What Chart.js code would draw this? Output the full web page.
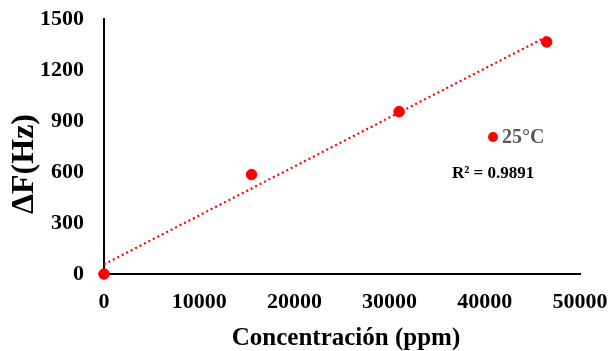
<!DOCTYPE html>
<html>
<head>
<meta charset="utf-8">
<script src="https://cdn.jsdelivr.net/npm/chart.js@4/dist/chart.umd.min.js"></script>
<style>
html,body{margin:0;padding:0;background:#fff;}
#wrap{width:612px;height:351px;position:relative;}
</style>
</head>
<body>
<div id="wrap"><canvas id="c" width="612" height="351"></canvas></div>
<script>
// Data
const concentrations = [0, 15500, 31000, 46500];       // ppm
const deltaF = [0, 585, 955, 1365];                   // Hz
const seriesLabel = '25°C';
const r2Label = 'R² = 0.9891';
const xTitle = 'Concentración (ppm)';
const yTitle = 'ΔF(Hz)';
const xTicks = [0, 10000, 20000, 30000, 40000, 50000];
const yTicks = [0, 300, 600, 900, 1200, 1500];

// Least-squares linear trendline from the points
const n = concentrations.length;
const mx = concentrations.reduce((a, b) => a + b, 0) / n;
const my = deltaF.reduce((a, b) => a + b, 0) / n;
let sxy = 0, sxx = 0;
for (let i = 0; i < n; i++) {
  sxy += (concentrations[i] - mx) * (deltaF[i] - my);
  sxx += (concentrations[i] - mx) ** 2;
}
const slope = sxy / sxx;
const intercept = my - slope * mx;
const xMinData = Math.min(...concentrations), xMaxData = Math.max(...concentrations);
const trend = [
  {x: xMinData, y: intercept + slope * xMinData},
  {x: xMaxData, y: intercept + slope * xMaxData}
];

const FONT = '"Liberation Serif", "Times New Roman", serif';

const overlay = {
  id: 'overlay',
  afterDraw(chart) {
    const ctx = chart.ctx;
    ctx.save();
    ctx.fillStyle = '#000';
    ctx.font = 'bold 32px ' + FONT;
    ctx.textAlign = 'center';
    ctx.textBaseline = 'middle';
    ctx.translate(25, 164);
    ctx.rotate(-Math.PI / 2);
    ctx.fillText(yTitle, 0, 0);
    ctx.restore();

    ctx.save();
    ctx.fillStyle = '#000';
    ctx.font = 'bold 25px ' + FONT;
    ctx.textAlign = 'center';
    ctx.textBaseline = 'middle';
    ctx.fillText(xTitle, 346, 339);

    // legend
    ctx.fillStyle = '#FF0000';
    ctx.beginPath();
    ctx.arc(493, 137, 5, 0, Math.PI * 2);
    ctx.fill();
    ctx.fillStyle = '#595959';
    ctx.font = 'bold 20px ' + FONT;
    ctx.textAlign = 'left';
    ctx.fillText(seriesLabel, 502, 138);

    // R2
    ctx.fillStyle = '#000';
    ctx.font = 'bold 17px ' + FONT;
    ctx.fillText(r2Label, 452, 174);
    ctx.restore();
  }
};

new Chart(document.getElementById('c'), {
  type: 'scatter',
  data: {
    datasets: [
      {
        type: 'line',
        label: 'trend',
        data: trend,
        borderColor: '#FF0000',
        borderWidth: 2.2,
        borderDash: [2, 3],
        pointRadius: 0,
        fill: false,
        clip: false,
        order: 2
      },
      {
        label: seriesLabel,
        data: concentrations.map((x, i) => ({x, y: deltaF[i]})),
        backgroundColor: '#FF0000',
        borderColor: '#FF0000',
        pointRadius: 5.3,
        pointHoverRadius: 5.3,
        clip: false,
        order: 1
      }
    ]
  },
  options: {
    responsive: false,
    animation: false,
    events: [],
    layout: {padding: {left: 0, right: 32, top: 19, bottom: 0}},
    plugins: {legend: {display: false}, tooltip: {enabled: false}},
    scales: {
      x: {
        type: 'linear',
        min: 0, max: 50000,
        afterBuildTicks(s) { s.ticks = xTicks.map(v => ({value: v})); },
        afterFit(s) { s.height = 77; s.paddingLeft = 0; s.paddingRight = 0; },
        grid: {display: false, drawTicks: false},
        border: {display: true, color: '#000', width: 2},
        ticks: {
          padding: 15,
          color: '#000',
          font: {family: FONT, size: 22, weight: 'bold'},
          maxRotation: 0,
          callback: v => String(v)
        }
      },
      y: {
        type: 'linear',
        min: 0, max: 1500,
        afterBuildTicks(s) { s.ticks = yTicks.map(v => ({value: v})); },
        afterFit(s) { s.width = 104; s.paddingTop = 0; s.paddingBottom = 0; },
        grid: {display: false, drawTicks: false},
        border: {display: true, color: '#000', width: 2},
        ticks: {
          padding: 20,
          color: '#000',
          font: {family: FONT, size: 22, weight: 'bold'},
          callback: v => String(v)
        }
      }
    }
  },
  plugins: [overlay]
});
</script>
</body>
</html>
